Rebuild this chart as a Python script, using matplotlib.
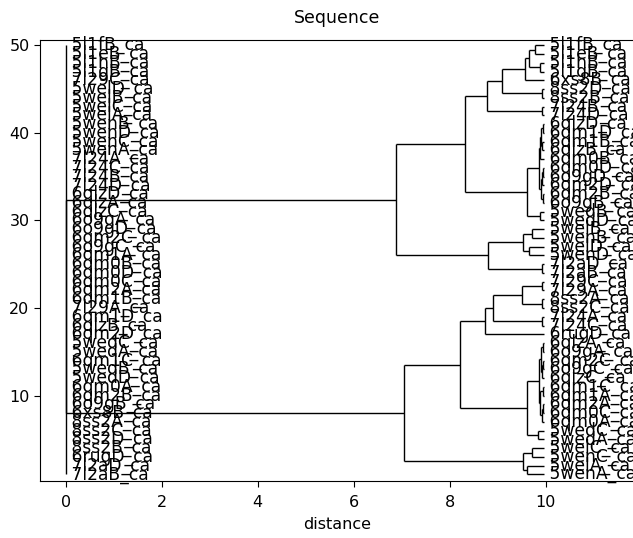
import matplotlib
matplotlib.use("Agg")
import matplotlib.pyplot as plt

# leaf labels on the tree side, top (y=50) to bottom (y=1)
right_leaves = [
    "5l1fB_ca", "5l1eB_ca", "5l1hB_ca", "5l1gB_ca", "6xs8B_ca",
    "8ss2D_ca", "8ss2B_ca", "7l24B_ca", "7l24D_ca", "6qlzD_ca",
    "6qm1D_ca", "6qm1B_ca", "6qlzB_ca", "6qm0B_ca", "6qm0D_ca",
    "6o9gD_ca", "6qm2D_ca", "6qm2B_ca", "6o9gB_ca", "5wedB_ca",
    "5wedD_ca", "5welB_ca", "5wenB_ca", "5welD_ca", "5wenD_ca",
    "7l2aD_ca", "7l2aB_ca", "7l29C_ca", "7l29A_ca", "8ss2A_ca",
    "8ss2C_ca", "7l24A_ca", "7l24C_ca", "6rugD_ca", "6qlzA_ca",
    "6o9gA_ca", "6qm2C_ca", "6o9gC_ca", "6qlzC_ca", "6qm1C_ca",
    "6qm1A_ca", "6qm2A_ca", "6qm0C_ca", "6qm0A_ca", "5wedC_ca",
    "5wedA_ca", "5welC_ca", "5wenC_ca", "5welA_ca", "5wenA_ca",
]

# labels of the flat (zero length) copy at x=0, top to bottom
left_leaves = [
    "5l1fB_ca", "5l1eB_ca", "5l1hB_ca", "5l1gB_ca", "7l29C_ca",
    "5welD_ca", "5welB_ca", "5welC_ca", "5welA_ca", "5wenB_ca",
    "5wenD_ca", "5wenC_ca", "5wenA_ca", "7l24A_ca", "7l24C_ca",
    "7l24B_ca", "7l24D_ca", "6qlzD_ca", "6qlzA_ca", "6qlzC_ca",
    "6o9gA_ca", "6o9gD_ca", "6qm2C_ca", "6o9gC_ca", "6qm1A_ca",
    "6qm0B_ca", "6qm0D_ca", "6qm0C_ca", "6qm2A_ca", "6qm1B_ca",
    "7l29A_ca", "6qm1D_ca", "6qlzB_ca", "6qm2D_ca", "5wedC_ca",
    "5wedA_ca", "6qm1C_ca", "5wedB_ca", "5wedD_ca", "6qm0A_ca",
    "6qm2B_ca", "6o9gB_ca", "6xs8B_ca", "8ss2A_ca", "8ss2C_ca",
    "8ss2D_ca", "8ss2B_ca", "6rugD_ca", "7l2aD_ca", "7l2aB_ca",
]

leaf_dist = 9.97

# internal nodes: name -> (distance, children)
nodes = {
    "root": (0.0, ["U", "L"]),
    "U": (6.89, ["U1", "U2"]),
    "U1": (8.31, ["U1a", "U1b"]),
    "U1a": (8.77, ["U1a1", "g7l24BD"]),
    "U1a1": (9.10, ["g5l1_6xs8", "g8ss2DB"]),
    "g5l1_6xs8": (9.56, ["g5l1", "6xs8B_ca"]),
    "g5l1": (9.66, ["g5l1fe", "g5l1hg"]),
    "g5l1fe": (9.78, ["5l1fB_ca", "5l1eB_ca"]),
    "g5l1hg": (9.88, ["5l1hB_ca", "5l1gB_ca"]),
    "g8ss2DB": (9.93, ["8ss2D_ca", "8ss2B_ca"]),
    "g7l24BD": (9.93, ["7l24B_ca", "7l24D_ca"]),
    "U1b": (9.62, ["C1", "g5wedBD"]),
    "C1": (9.86, ["C1a", "C1b"]),
    "C1a": (9.89, ["C1a1", "6qm0B_ca"]),
    "C1a1": (9.91, ["C1a11", "C1a12"]),
    "C1a11": (9.94, ["6qlzD_ca", "6qm1D_ca"]),
    "C1a12": (9.93, ["6qm1B_ca", "6qlzB_ca"]),
    "C1b": (9.90, ["C1b1", "C1b2"]),
    "C1b1": (9.92, ["C1b11", "6qm2D_ca"]),
    "C1b11": (9.95, ["6qm0D_ca", "6o9gD_ca"]),
    "C1b2": (9.94, ["6qm2B_ca", "6o9gB_ca"]),
    "g5wedBD": (9.88, ["5wedB_ca", "5wedD_ca"]),
    "U2": (8.79, ["U2a", "g7l2a"]),
    "U2a": (9.53, ["g5weB", "g5weD"]),
    "g5weB": (9.72, ["5welB_ca", "5wenB_ca"]),
    "g5weD": (9.65, ["5welD_ca", "5wenD_ca"]),
    "g7l2a": (9.93, ["7l2aD_ca", "7l2aB_ca"]),
    "L": (7.04, ["L1", "L2"]),
    "L1": (8.21, ["L1a", "L1b"]),
    "L1a": (8.73, ["L1a1", "6rugD_ca"]),
    "L1a1": (8.91, ["L1a1a", "g7l24AC"]),
    "L1a1a": (9.51, ["g7l29", "g8ss2AC"]),
    "g7l29": (9.93, ["7l29C_ca", "7l29A_ca"]),
    "g8ss2AC": (9.93, ["8ss2A_ca", "8ss2C_ca"]),
    "g7l24AC": (9.93, ["7l24A_ca", "7l24C_ca"]),
    "L1b": (9.62, ["C2", "g5wedCA"]),
    "C2": (9.87, ["C2a", "C2b"]),
    "C2a": (9.90, ["C2a1", "C2a2"]),
    "C2a1": (9.94, ["6qlzA_ca", "6o9gA_ca"]),
    "C2a2": (9.92, ["C2a21", "6qlzC_ca"]),
    "C2a21": (9.95, ["6qm2C_ca", "6o9gC_ca"]),
    "C2b": (9.89, ["C2b1", "C2b2"]),
    "C2b1": (9.94, ["6qm1C_ca", "6qm1A_ca"]),
    "C2b2": (9.92, ["C2b21", "6qm0A_ca"]),
    "C2b21": (9.95, ["6qm2A_ca", "6qm0C_ca"]),
    "g5wedCA": (9.83, ["5wedC_ca", "5wedA_ca"]),
    "L2": (9.53, ["g5weC", "g5weA"]),
    "g5weC": (9.72, ["5welC_ca", "5wenC_ca"]),
    "g5weA": (9.62, ["5welA_ca", "5wenA_ca"]),
}

n = len(right_leaves)
ypos = {name: n - i for i, name in enumerate(right_leaves)}


def get_y(name):
    if name not in ypos:
        kids = nodes[name][1]
        ypos[name] = (get_y(kids[0]) + get_y(kids[-1])) / 2
    return ypos[name]


def get_x(name):
    return nodes[name][0] if name in nodes else leaf_dist


fig = plt.figure(figsize=(6.33, 5.38), dpi=100)
ax = fig.add_axes([40 / 633, 57 / 538, 594 / 633, 441 / 538])

lw = 1.0
# flat copy: every leaf at distance 0
ax.vlines(0, 1, n, color="black", lw=lw)
for i, name in enumerate(left_leaves):
    ax.text(0, n - i, " " + name, va="center", ha="left", fontsize=12.3)

# the tree
for name, (x, kids) in nodes.items():
    ys = [get_y(k) for k in kids]
    ax.vlines(x, ys[0], ys[-1], color="black", lw=lw)
    for k, yk in zip(kids, ys):
        ax.hlines(yk, x, get_x(k), color="black", lw=lw)

for name in right_leaves:
    ax.text(leaf_dist, ypos[name], " " + name, va="center", ha="left",
            fontsize=12.3, clip_on=False)

ax.set_xlim(-0.535, 11.84)
ax.set_ylim(0.25, 50.6)
ax.set_xticks([0, 2, 4, 6, 8, 10])
ax.set_yticks([10, 20, 30, 40, 50])
ax.tick_params(labelsize=11.5, length=4)
ax.tick_params(axis="x", pad=6)
ax.set_xlabel("distance", fontsize=11.5, labelpad=5)
ax.set_title("Sequence", fontsize=12.5, pad=12)

fig.savefig("out.png", dpi=100)
